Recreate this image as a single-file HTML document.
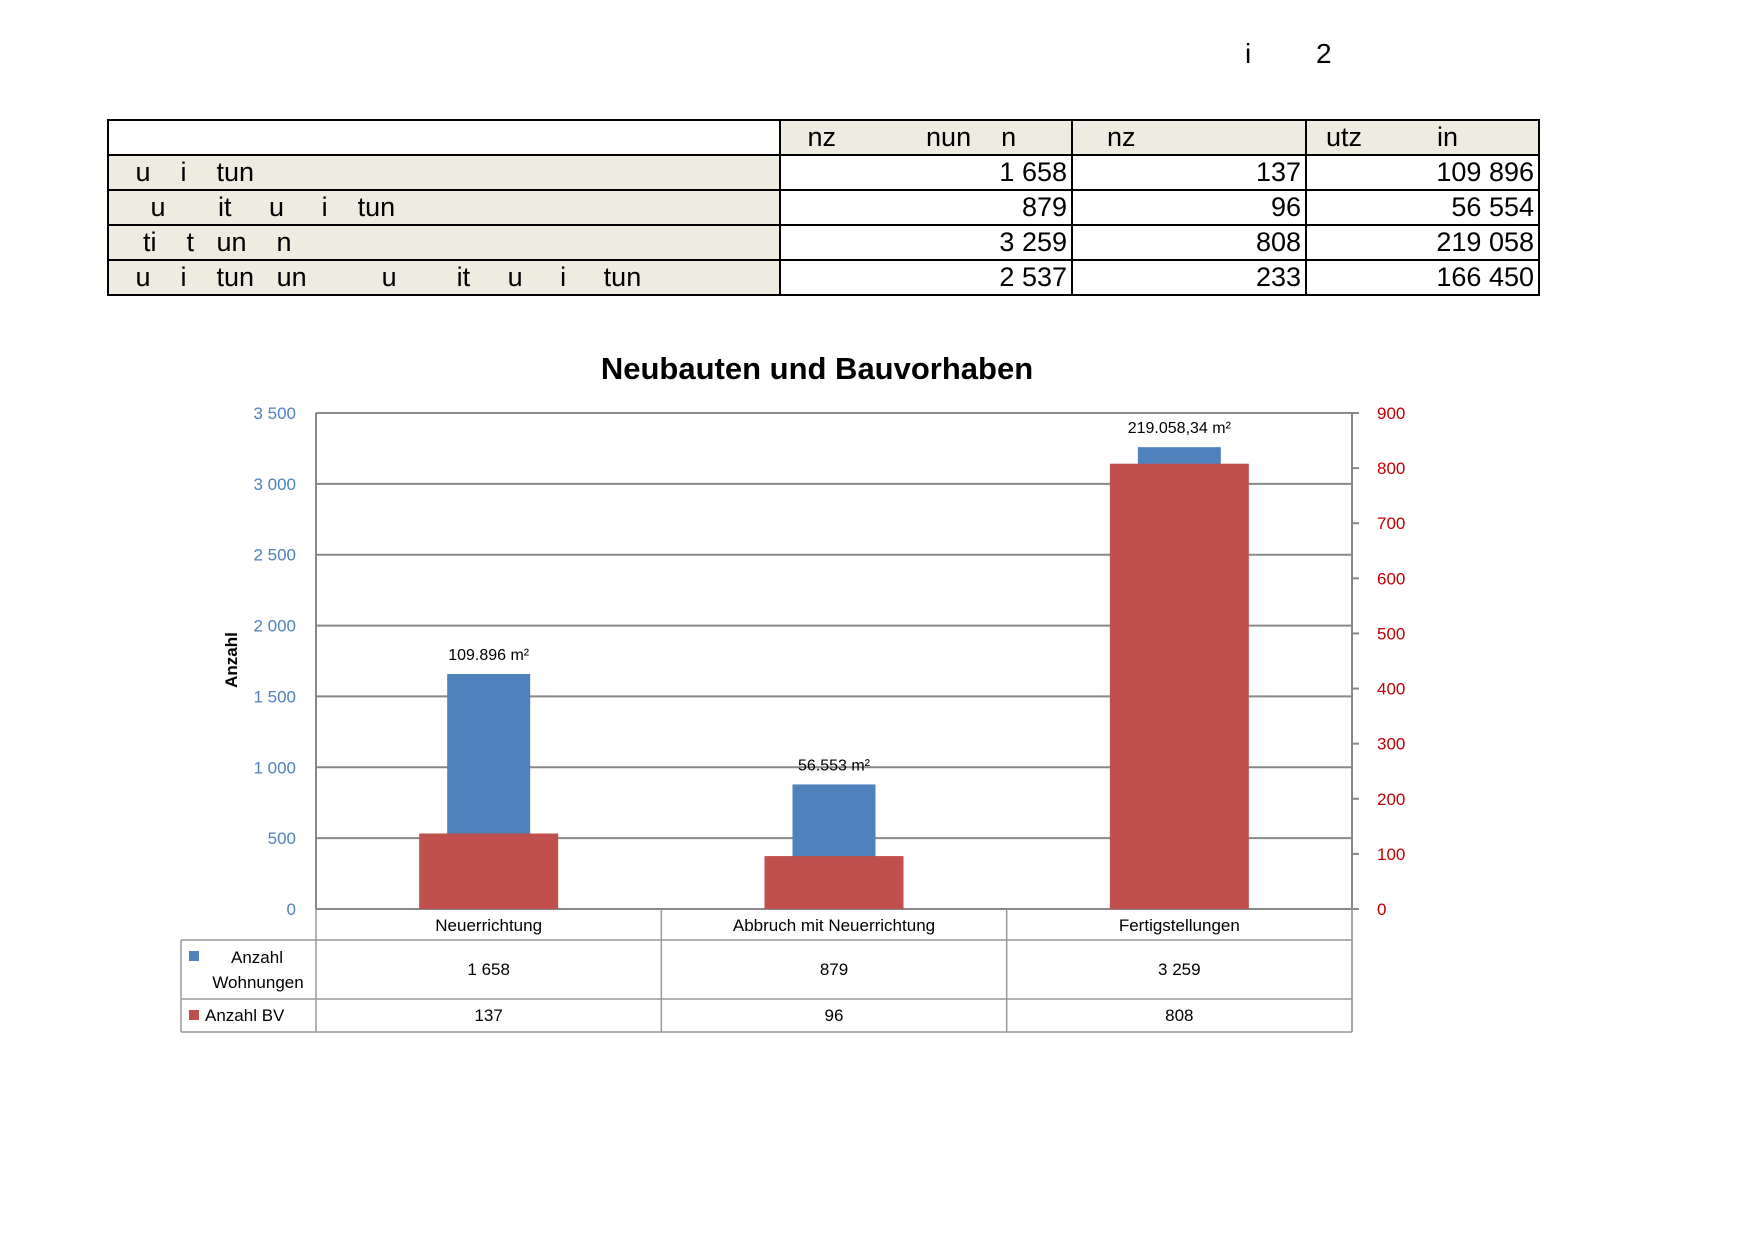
<!DOCTYPE html>
<html><head><meta charset="utf-8">
<style>
html,body{margin:0;padding:0;background:#fff;}
body{width:1755px;height:1241px;position:relative;overflow:hidden;font-family:"Liberation Sans",sans-serif;}
.hdr{position:absolute;font-size:28px;color:#000;}
table.t{position:absolute;left:107px;top:119px;border-collapse:collapse;font-family:"Liberation Sans Narrow","Liberation Sans",sans-serif;font-size:27px;}
table.t td{border:2px solid #000;height:33px;padding:0 4px;line-height:33px;white-space:pre;}
td.b{background:#eeebe0;}
td.n{text-align:right;}
</style></head>
<body>
<div class="hdr" style="left:1245px;top:38px;">i</div>
<div class="hdr" style="left:1316px;top:38px;">2</div>
<table class="t">
<tr><td style="width:662px"></td><td class="b" style="width:282px">   nz            nun    n</td><td class="b" style="width:224px">    nz</td><td class="b" style="width:223px">  utz          in</td></tr>
<tr><td class="b">   u    i    tun</td><td class="n">1 658</td><td class="n">137</td><td class="n">109 896</td></tr>
<tr><td class="b">     u       it     u     i    tun</td><td class="n">879</td><td class="n">96</td><td class="n">56 554</td></tr>
<tr><td class="b">    ti    t   un    n</td><td class="n">3 259</td><td class="n">808</td><td class="n">219 058</td></tr>
<tr><td class="b">   u    i    tun   un          u        it     u     i     tun</td><td class="n">2 537</td><td class="n">233</td><td class="n">166 450</td></tr>
</table>
<svg id="chart" width="1755" height="1241" style="position:absolute;left:0;top:0;" xmlns="http://www.w3.org/2000/svg"></svg>
<script>
const categories=["Neuerrichtung","Abbruch mit Neuerrichtung","Fertigstellungen"];
const wohnungen=[1658,879,3259];
const bv=[137,96,808];
const areaLabels=["109.896 m²","56.553 m²","219.058,34 m²"];
const leftTicks=[0,500,1000,1500,2000,2500,3000,3500];
const rightTicks=[0,100,200,300,400,500,600,700,800,900];
const wohnLabels=["1 658","879","3 259"];
const svg=document.getElementById('chart');
const NS="http://www.w3.org/2000/svg";
const X0=316,X1=1352,Y0=909,Y1=413;
const yL=v=>Y0-(v/3500)*(Y0-Y1);
const yR=v=>Y0-(v/900)*(Y0-Y1);
const cw=(X1-X0)/categories.length;
const cx=i=>X0+cw*(i+0.5);
function el(t,a,txt){const e=document.createElementNS(NS,t);for(const k in a)e.setAttribute(k,a[k]);if(txt!==undefined)e.textContent=txt;svg.appendChild(e);return e;}
const F='"Liberation Sans",sans-serif';
let t=el('text',{x:817,y:379,'text-anchor':'middle','font-size':31,'font-weight':'bold','font-family':F},'Neubauten und Bauvorhaben');

leftTicks.forEach(v=>{
 const g=el('line',{x1:X0,x2:X1,y1:yL(v),y2:yL(v),stroke:'#888','stroke-width':2});
 
 const l=el('text',{x:296,y:yL(v)+6,'text-anchor':'end','font-size':17,fill:'#4f81bd','font-family':F},v===0?'0':(v>=1000?Math.floor(v/1000)+' '+String(v%1000).padStart(3,'0'):String(v)));
 
});
rightTicks.forEach(v=>{
 const tk=el('line',{x1:X1,x2:X1+7,y1:yR(v),y2:yR(v),stroke:'#888','stroke-width':2});
 
 const l=el('text',{x:1377,y:yR(v)+6,'font-size':17,fill:'#c00000','font-family':F},String(v));
 
});
let a=el('line',{x1:X0,x2:X0,y1:Y1,y2:Y0,stroke:'#888','stroke-width':2});
a=el('line',{x1:X1,x2:X1,y1:Y1,y2:Y0,stroke:'#888','stroke-width':2});
let yt=el('text',{x:0,y:0,transform:'translate(237,660) rotate(-90)','text-anchor':'middle','font-size':17,'font-weight':'bold','font-family':F},'Anzahl');

categories.forEach((c,i)=>{
 const bw=83,rw=139;
 const b=el('rect',{x:cx(i)-bw/2,y:yL(wohnungen[i]),width:bw,height:Y0-yL(wohnungen[i]),fill:'#4f81bd'});
 
 const r=el('rect',{x:cx(i)-rw/2,y:yR(bv[i]),width:rw,height:Y0-yR(bv[i]),fill:'#c0504d'});
 
 const lb=el('text',{x:cx(i),y:yL(wohnungen[i])-14,'text-anchor':'middle','font-size':16,'font-family':F},areaLabels[i]);
 
});
// data table
const TL=181,R1=940,R2=999,R3=1032;
[[X0,Y0,X0,R3],[TL,R1,TL,R3],[TL,R1,X1,R1],[TL,R2,X1,R2],[TL,R3,X1,R3],[X1,Y0,X1,R3]].forEach(p=>{
 const l=el('line',{x1:p[0],y1:p[1],x2:p[2],y2:p[3],stroke:'#999','stroke-width':1.5});
 
});
categories.forEach((c,i)=>{
 const xs=X0+cw*(i+1);
 const l=el('line',{x1:xs,y1:Y0,x2:xs,y2:R3,stroke:'#999','stroke-width':1.5});
 
 const ct=el('text',{x:cx(i),y:931,'text-anchor':'middle','font-size':17,'font-family':F},c);
 
 const w=el('text',{x:cx(i),y:975,'text-anchor':'middle','font-size':17,'font-family':F},wohnLabels[i]);
 
 const v=el('text',{x:cx(i),y:1021,'text-anchor':'middle','font-size':17,'font-family':F},String(bv[i]));
 
});
let k=el('rect',{x:189,y:951,width:10,height:10,fill:'#4f81bd'});
k=el('rect',{x:189,y:1010,width:10,height:10,fill:'#c0504d'});
let lt=el('text',{x:257,y:963,'text-anchor':'middle','font-size':17,'font-family':F},'Anzahl');
lt=el('text',{x:258,y:988,'text-anchor':'middle','font-size':17,'font-family':F},'Wohnungen');
lt=el('text',{x:205,y:1021,'font-size':17,'font-family':F},'Anzahl BV');
</script>
</body></html>
